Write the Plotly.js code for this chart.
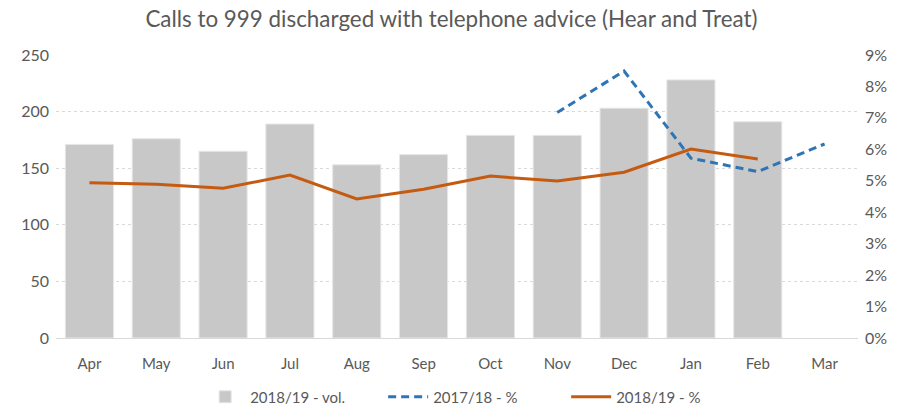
<!DOCTYPE html>
<html>
<head>
<meta charset="utf-8">
<script src="https://cdn.plot.ly/plotly-3.0.1.min.js"></script>
<style>html,body{margin:0;padding:0;background:#fff;}#chart{width:903px;height:409px;}</style>
</head>
<body>
<div id="chart"></div>
<script>
const months = ["Apr","May","Jun","Jul","Aug","Sep","Oct","Nov","Dec","Jan","Feb","Mar"];
const vol1819 = [171,176,165,189,153,162,179,179,203,228,191,null];
const pct1718 = [null,null,null,null,null,null,null,0.0717,0.0849,0.0572,0.0529,0.0617];
const pct1819 = [0.0494,0.0489,0.0476,0.0518,0.0442,0.0473,0.0515,0.0499,0.0527,0.0601,0.0569,null];

const font = "Lato, 'Liberation Sans', sans-serif";
const grey = "#595959";

const traces = [
  {type:"bar", name:"2018/19 - vol.", x:months, y:vol1819, yaxis:"y",
   marker:{color:"#C8C8C8", line:{color:"#E6E6E6", width:1}}},
  {type:"scatter", mode:"lines", name:"2017/18 - %", x:months, y:pct1718, yaxis:"y2",
   line:{color:"#2E75B6", width:3, dash:"8px,5px"}},
  {type:"scatter", mode:"lines", name:"2018/19 - %", x:months, y:pct1819, yaxis:"y2",
   line:{color:"#C55A11", width:3}}
];

const layout = {
  width:903, height:409,
  margin:{l:56, r:45, t:55, b:71, autoexpand:false},
  paper_bgcolor:"#fff", plot_bgcolor:"#fff",
  font:{family:font, color:grey, size:15},
  title:{text:"Calls to 999 discharged with telephone advice (Hear and Treat)",
         font:{family:font, size:22.4, color:grey}, x:0.5, xanchor:"center",
         yref:"container", y:(409-19)/409, yanchor:"middle"},
  bargap:0.28,
  showlegend:true,
  legend:{orientation:"h", x:0.522, xanchor:"center", yref:"container", y:(409-397)/409, yanchor:"middle",
          font:{family:font, size:15, color:grey}, traceorder:"normal", itemwidth:40, entrywidth:128},
  xaxis:{type:"category", showgrid:false, showline:true, linecolor:"#D9D9D9", linewidth:1,
         ticks:"", ticklabelstandoff:12, tickfont:{size:15, color:grey}, automargin:false},
  yaxis:{range:[0,250], dtick:50, showgrid:true, gridcolor:"#D9D9D9", griddash:"dot", gridwidth:1,
         zeroline:false, showline:false, ticks:"", ticklabelstandoff:6, tickfont:{size:16, color:grey}, automargin:false},
  yaxis2:{range:[0,0.09], dtick:0.01, tickformat:".0%", overlaying:"y", side:"right",
          showgrid:false, zeroline:false, showline:false, ticklabelstandoff:6, tickfont:{size:16, color:grey}, automargin:false},
  hovermode:false
};

Plotly.newPlot("chart", traces, layout, {displayModeBar:false, staticPlot:true});
</script>
</body>
</html>
